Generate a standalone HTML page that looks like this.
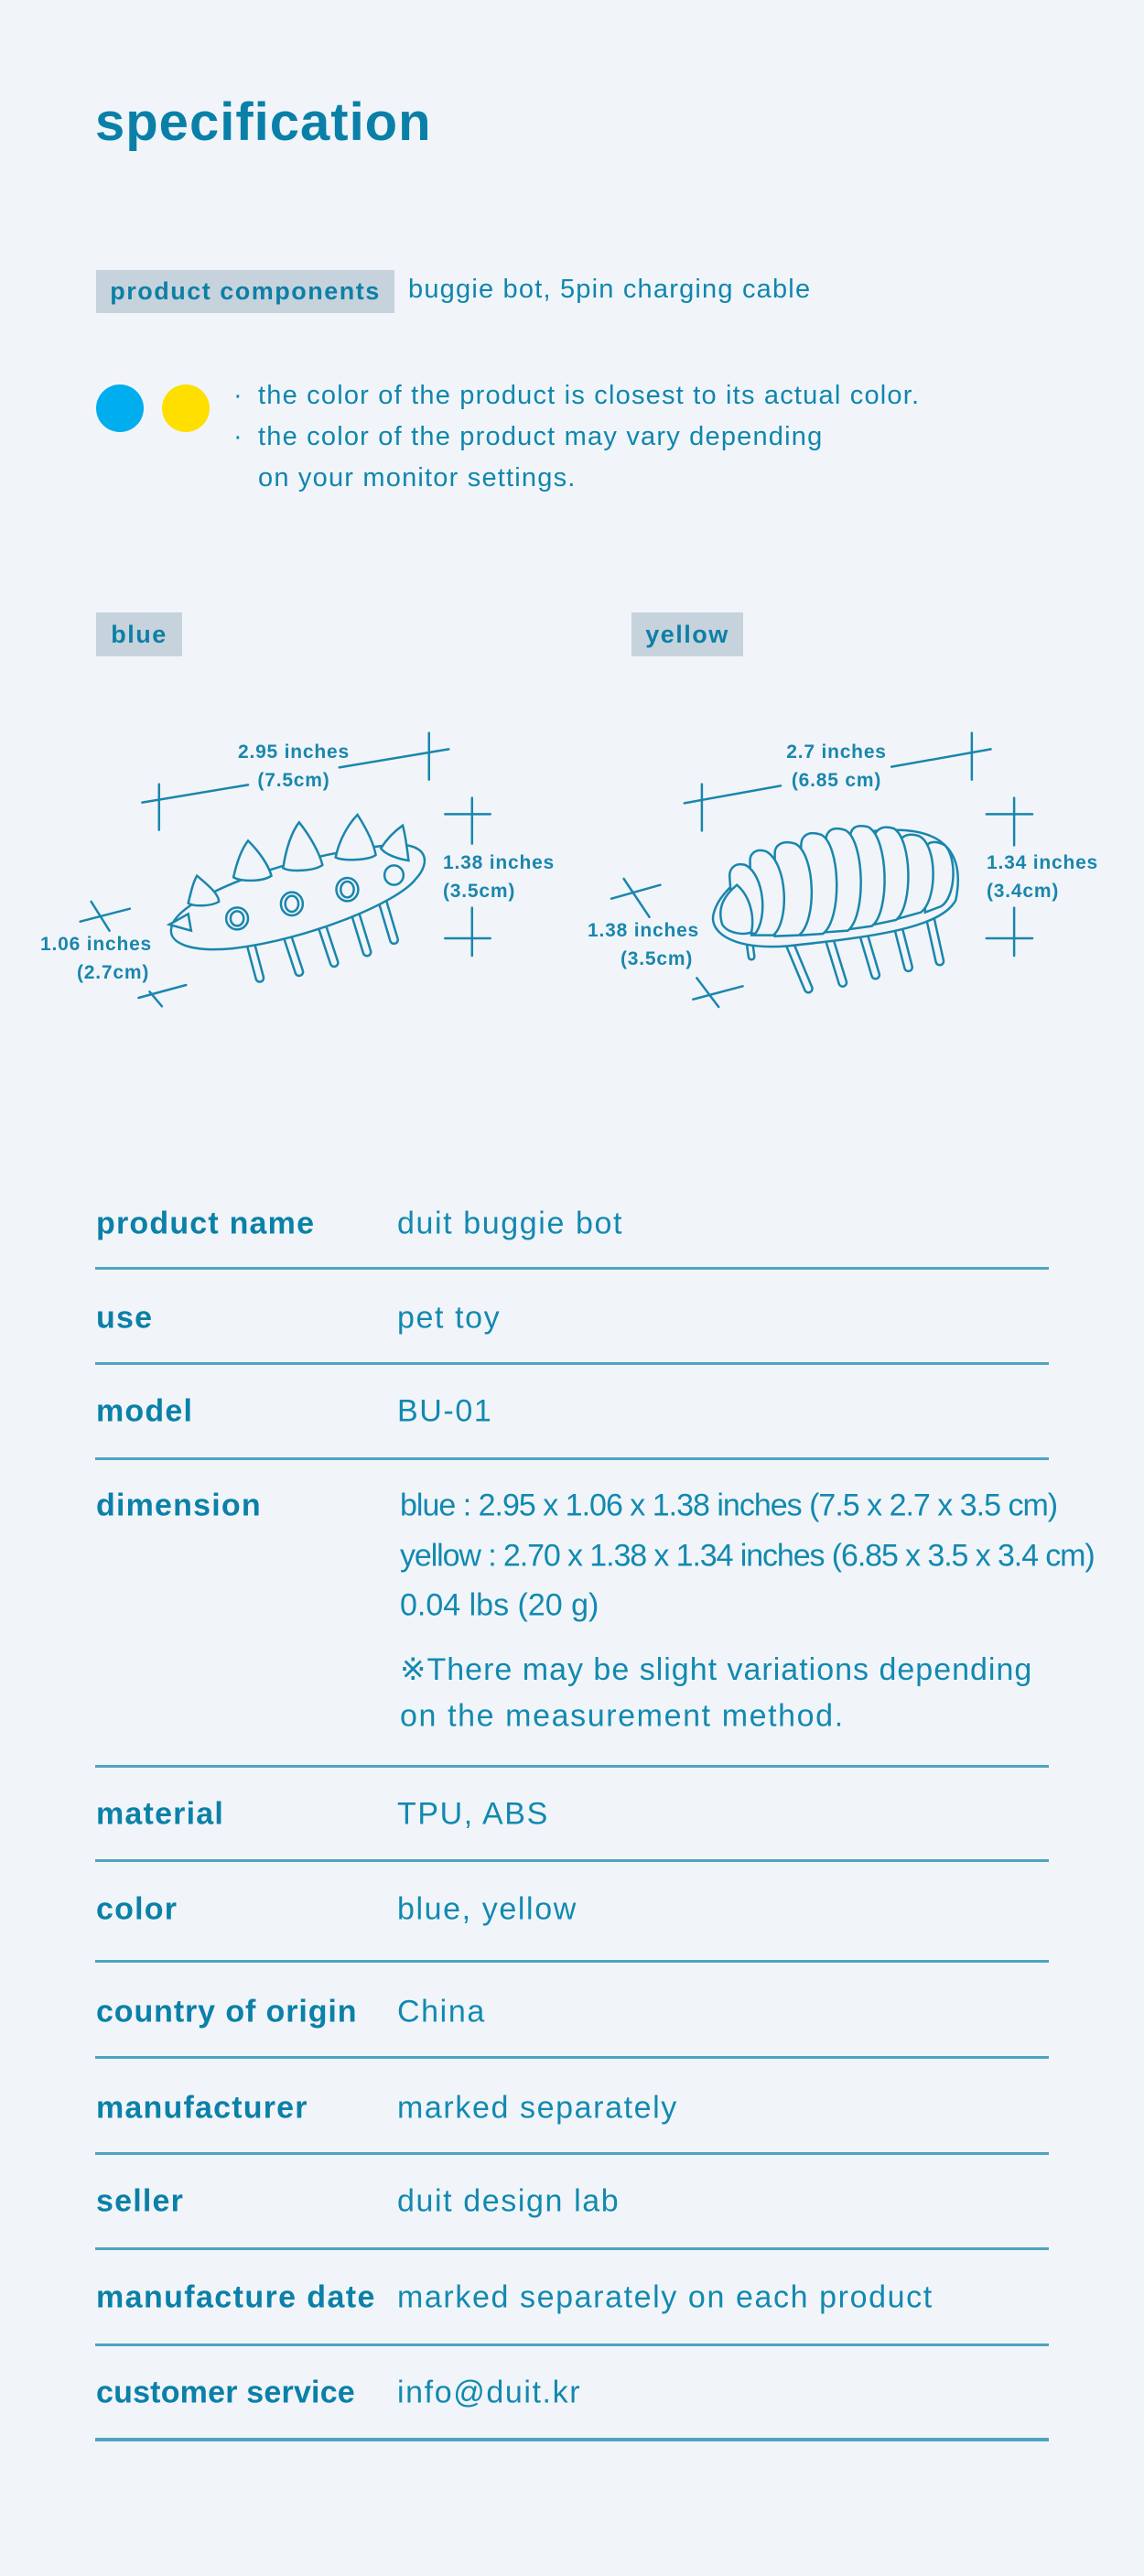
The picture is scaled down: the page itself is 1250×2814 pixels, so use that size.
<!DOCTYPE html>
<html><head><meta charset="utf-8"><style>
*{margin:0;padding:0;box-sizing:border-box}
body{width:1250px;height:2814px;background:#f1f5f9;position:relative;overflow:hidden;font-family:"Liberation Sans",sans-serif;color:#0f86ad}
.a{position:absolute;white-space:nowrap}
.t{left:104px;top:100px;font-size:58px;font-weight:bold;color:#0a80a8;letter-spacing:1px}
.tag{background:#c7d3dc;font-weight:bold;color:#0d7fa6;font-size:27px;letter-spacing:1.5px;display:flex;align-items:center;justify-content:center}
.v{font-size:29px;color:#0f86ad;letter-spacing:1.2px}
.d{font-size:21px;font-weight:bold;color:#1a86ad;line-height:31px;letter-spacing:0.8px;text-align:center}
.lab{left:105px;font-size:34px;font-weight:bold;color:#0b80a8;letter-spacing:1.2px;transform:translateY(-50%)}
.val{left:434px;font-size:34px;color:#1289b0;letter-spacing:1.6px;transform:translateY(-50%)}
.ln{position:absolute;left:104px;width:1042px;height:3px;background:#4ea3c3}
</style></head><body>
<div class="a t">specification</div>
<div class="a tag" style="left:105px;top:295px;width:326px;height:47px">product components</div>
<div class="a v" style="left:446px;top:300px">buggie bot, 5pin charging cable</div>
<div class="a" style="left:105px;top:420px;width:52px;height:52px;border-radius:50%;background:#00aeef"></div>
<div class="a" style="left:177px;top:420px;width:52px;height:52px;border-radius:50%;background:#ffdf00"></div>
<div class="a v" style="left:255px;top:416px">·</div>
<div class="a v" style="left:255px;top:461px">·</div>
<div class="a v" style="left:282px;top:416px">the color of the product is closest to its actual color.</div>
<div class="a v" style="left:282px;top:461px">the color of the product may vary depending</div>
<div class="a v" style="left:282px;top:506px">on your monitor settings.</div>
<div class="a tag" style="left:105px;top:669px;width:94px;height:48px">blue</div>
<div class="a tag" style="left:690px;top:669px;width:122px;height:48px">yellow</div>

<svg class="a" style="left:0;top:750px" width="1250" height="400" viewBox="0 0 1568 1200" preserveAspectRatio="none">
<g fill="none" stroke="#1a86ad" stroke-width="2.5" stroke-linecap="round">
<line x1="195" y1="380" x2="340" y2="322" vector-effect="non-scaling-stroke"/>
<line x1="465" y1="265" x2="615" y2="205" vector-effect="non-scaling-stroke"/>
<line x1="218" y1="320" x2="218" y2="470" vector-effect="non-scaling-stroke"/>
<line x1="588" y1="152" x2="588" y2="305" vector-effect="non-scaling-stroke"/>
<line x1="647" y1="365" x2="647" y2="515" vector-effect="non-scaling-stroke"/>
<line x1="610" y1="418" x2="672" y2="418" vector-effect="non-scaling-stroke"/>
<line x1="647" y1="725" x2="647" y2="882" vector-effect="non-scaling-stroke"/>
<line x1="610" y1="825" x2="672" y2="825" vector-effect="non-scaling-stroke"/>
<line x1="110" y1="770" x2="178" y2="728" vector-effect="non-scaling-stroke"/>
<line x1="125" y1="705" x2="150" y2="800" vector-effect="non-scaling-stroke"/>
<line x1="190" y1="1020" x2="255" y2="978" vector-effect="non-scaling-stroke"/>
<line x1="205" y1="1000" x2="222" y2="1048" vector-effect="non-scaling-stroke"/>

<line x1="938" y1="382" x2="1070" y2="325" vector-effect="non-scaling-stroke"/>
<line x1="1222" y1="263" x2="1358" y2="205" vector-effect="non-scaling-stroke"/>
<line x1="962" y1="320" x2="962" y2="472" vector-effect="non-scaling-stroke"/>
<line x1="1332" y1="152" x2="1332" y2="305" vector-effect="non-scaling-stroke"/>
<line x1="1390" y1="365" x2="1390" y2="520" vector-effect="non-scaling-stroke"/>
<line x1="1352" y1="418" x2="1415" y2="418" vector-effect="non-scaling-stroke"/>
<line x1="1390" y1="725" x2="1390" y2="882" vector-effect="non-scaling-stroke"/>
<line x1="1352" y1="825" x2="1415" y2="825" vector-effect="non-scaling-stroke"/>
<line x1="838" y1="695" x2="905" y2="650" vector-effect="non-scaling-stroke"/>
<line x1="855" y1="630" x2="890" y2="755" vector-effect="non-scaling-stroke"/>
<line x1="950" y1="1025" x2="1018" y2="982" vector-effect="non-scaling-stroke"/>
<line x1="955" y1="955" x2="985" y2="1050" vector-effect="non-scaling-stroke"/>

<g stroke-linecap="round">
<line x1="342" y1="830" x2="356" y2="955" stroke="#1a86ad" stroke-width="11" vector-effect="non-scaling-stroke"/>
<line x1="342" y1="830" x2="356" y2="955" stroke="#f1f5f9" stroke-width="6" vector-effect="non-scaling-stroke"/>
<line x1="392" y1="805" x2="410" y2="935" stroke="#1a86ad" stroke-width="11" vector-effect="non-scaling-stroke"/>
<line x1="392" y1="805" x2="410" y2="935" stroke="#f1f5f9" stroke-width="6" vector-effect="non-scaling-stroke"/>
<line x1="440" y1="775" x2="458" y2="905" stroke="#1a86ad" stroke-width="11" vector-effect="non-scaling-stroke"/>
<line x1="440" y1="775" x2="458" y2="905" stroke="#f1f5f9" stroke-width="6" vector-effect="non-scaling-stroke"/>
<line x1="487" y1="745" x2="503" y2="870" stroke="#1a86ad" stroke-width="11" vector-effect="non-scaling-stroke"/>
<line x1="487" y1="745" x2="503" y2="870" stroke="#f1f5f9" stroke-width="6" vector-effect="non-scaling-stroke"/>
<line x1="525" y1="710" x2="540" y2="830" stroke="#1a86ad" stroke-width="11" vector-effect="non-scaling-stroke"/>
<line x1="525" y1="710" x2="540" y2="830" stroke="#f1f5f9" stroke-width="6" vector-effect="non-scaling-stroke"/>
</g>
<path d="M235,790 C240,700 380,560 530,520 C590,505 590,580 570,630 C545,710 420,830 320,858 C260,872 230,840 235,790Z" fill="#f1f5f9" vector-effect="non-scaling-stroke"/>
<path d="M232,780 L258,745 L262,800Z" fill="#f1f5f9" vector-effect="non-scaling-stroke"/>
<path d="M258,710 C262,670 265,640 270,620 C285,650 300,680 300,705 C290,720 265,722 258,710Z" fill="#f1f5f9" vector-effect="non-scaling-stroke"/>
<path d="M320,625 C325,570 332,530 340,505 C355,540 368,585 372,620 C360,640 330,640 320,625Z" fill="#f1f5f9" vector-effect="non-scaling-stroke"/>
<path d="M388,595 C392,530 400,475 410,445 C425,490 438,545 442,585 C430,605 398,608 388,595Z" fill="#f1f5f9" vector-effect="non-scaling-stroke"/>
<path d="M460,560 C465,500 478,450 490,420 C502,465 512,510 515,552 C505,570 470,572 460,560Z" fill="#f1f5f9" vector-effect="non-scaling-stroke"/>
<path d="M522,530 C530,500 540,475 552,455 C556,490 558,530 560,570 C545,565 528,550 522,530Z" fill="#f1f5f9" vector-effect="non-scaling-stroke"/>
<ellipse cx="325" cy="760" rx="15" ry="36" vector-effect="non-scaling-stroke"/>
<ellipse cx="325" cy="760" rx="9" ry="24" vector-effect="non-scaling-stroke"/>
<ellipse cx="400" cy="712" rx="15" ry="38" vector-effect="non-scaling-stroke"/>
<ellipse cx="400" cy="712" rx="9" ry="26" vector-effect="non-scaling-stroke"/>
<ellipse cx="476" cy="665" rx="15" ry="38" vector-effect="non-scaling-stroke"/>
<ellipse cx="476" cy="665" rx="9" ry="26" vector-effect="non-scaling-stroke"/>
<ellipse cx="540" cy="618" rx="13" ry="32" vector-effect="non-scaling-stroke"/>

<g stroke-linecap="round">
<line x1="1080" y1="830" x2="1108" y2="990" stroke="#1a86ad" stroke-width="11" vector-effect="non-scaling-stroke"/>
<line x1="1080" y1="830" x2="1108" y2="990" stroke="#f1f5f9" stroke-width="6" vector-effect="non-scaling-stroke"/>
<line x1="1135" y1="815" x2="1155" y2="970" stroke="#1a86ad" stroke-width="11" vector-effect="non-scaling-stroke"/>
<line x1="1135" y1="815" x2="1155" y2="970" stroke="#f1f5f9" stroke-width="6" vector-effect="non-scaling-stroke"/>
<line x1="1182" y1="800" x2="1200" y2="945" stroke="#1a86ad" stroke-width="11" vector-effect="non-scaling-stroke"/>
<line x1="1182" y1="800" x2="1200" y2="945" stroke="#f1f5f9" stroke-width="6" vector-effect="non-scaling-stroke"/>
<line x1="1230" y1="780" x2="1245" y2="920" stroke="#1a86ad" stroke-width="11" vector-effect="non-scaling-stroke"/>
<line x1="1230" y1="780" x2="1245" y2="920" stroke="#f1f5f9" stroke-width="6" vector-effect="non-scaling-stroke"/>
<line x1="1275" y1="760" x2="1288" y2="900" stroke="#1a86ad" stroke-width="11" vector-effect="non-scaling-stroke"/>
<line x1="1275" y1="760" x2="1288" y2="900" stroke="#f1f5f9" stroke-width="6" vector-effect="non-scaling-stroke"/>
<line x1="1028" y1="850" x2="1030" y2="885" stroke="#1a86ad" stroke-width="9" vector-effect="non-scaling-stroke"/>
<line x1="1028" y1="850" x2="1030" y2="885" stroke="#f1f5f9" stroke-width="4" vector-effect="non-scaling-stroke"/>
</g>
<path d="M978,745 C990,620 1100,480 1220,470 C1300,465 1322,560 1310,700 C1290,790 1200,820 1080,850 C1000,865 972,800 978,745Z" fill="#f1f5f9" vector-effect="non-scaling-stroke"/>
<g fill="#f1f5f9">
<path d="M1290,720 C1310,690 1312,560 1295,520 C1280,500 1268,510 1268,540 L1268,740Z" vector-effect="non-scaling-stroke"/>
<path d="M1262,740 C1285,700 1285,520 1260,490 C1240,475 1232,500 1232,520 L1232,760Z" vector-effect="non-scaling-stroke"/>
<path d="M1228,765 C1252,720 1250,500 1225,465 C1205,450 1198,480 1198,500 L1198,780Z" vector-effect="non-scaling-stroke"/>
<path d="M1195,785 C1220,740 1218,495 1190,460 C1170,448 1165,470 1165,500 L1165,795Z" vector-effect="non-scaling-stroke"/>
<path d="M1162,800 C1188,750 1185,500 1158,470 C1138,455 1132,480 1132,505 L1132,805Z" vector-effect="non-scaling-stroke"/>
<path d="M1128,810 C1155,760 1152,515 1125,485 C1105,470 1098,495 1098,520 L1098,815Z" vector-effect="non-scaling-stroke"/>
<path d="M1095,815 C1120,770 1118,550 1090,515 C1070,500 1062,525 1062,545 L1062,818Z" vector-effect="non-scaling-stroke"/>
<path d="M1060,815 C1082,770 1080,580 1050,540 C1035,528 1028,550 1028,570 L1030,815Z" vector-effect="non-scaling-stroke"/>
<path d="M1035,810 C1052,760 1048,620 1022,585 C1008,575 1000,595 1000,620 L1005,800Z" vector-effect="non-scaling-stroke"/>
<path d="M1030,805 C1035,740 1025,680 1010,650 C995,680 982,720 990,780 C998,810 1020,815 1030,805Z" vector-effect="non-scaling-stroke"/>
</g>
</g>
</svg>
<div class="a d" style="left:236px;top:806px;width:170px">2.95 inches<br>(7.5cm)</div>
<div class="a d" style="left:484px;top:927px;text-align:left">1.38 inches<br>(3.5cm)</div>
<div class="a d" style="left:44px;top:1016px;text-align:left">1.06 inches<br><span style="margin-left:40px">(2.7cm)</span></div>
<div class="a d" style="left:829px;top:806px;width:170px">2.7 inches<br>(6.85 cm)</div>
<div class="a d" style="left:1078px;top:927px;text-align:left">1.34 inches<br>(3.4cm)</div>
<div class="a d" style="left:642px;top:1001px;text-align:left">1.38 inches<br><span style="margin-left:36px">(3.5cm)</span></div>

<div class="a lab" style="top:1337px">product name</div><div class="a val" style="top:1337px">duit buggie bot</div>
<div class="ln" style="top:1384px"></div>
<div class="a lab" style="top:1440px">use</div><div class="a val" style="top:1440px">pet toy</div>
<div class="ln" style="top:1488px"></div>
<div class="a lab" style="top:1542px">model</div><div class="a val" style="top:1542px">BU-01</div>
<div class="ln" style="top:1592px"></div>
<div class="a lab" style="top:1645px">dimension</div>
<div class="a val" style="top:1645px;left:437px;letter-spacing:-1px">blue :  2.95 x 1.06 x 1.38 inches (7.5 x 2.7 x 3.5 cm)</div>
<div class="a val" style="top:1700px;left:437px;letter-spacing:-1.1px">yellow : 2.70 x 1.38 x 1.34 inches (6.85 x 3.5 x 3.4 cm)</div>
<div class="a val" style="top:1754px;left:437px;letter-spacing:0px">0.04 lbs (20 g)</div>
<div class="a val" style="top:1824px;left:437px;letter-spacing:1px">※There may be slight variations depending</div>
<div class="a val" style="top:1875px;left:437px">on the measurement method.</div>
<div class="ln" style="top:1928px"></div>
<div class="a lab" style="top:1982px">material</div><div class="a val" style="top:1982px">TPU, ABS</div>
<div class="ln" style="top:2031px"></div>
<div class="a lab" style="top:2086px">color</div><div class="a val" style="top:2086px">blue, yellow</div>
<div class="ln" style="top:2141px"></div>
<div class="a lab" style="top:2198px;letter-spacing:0.9px">country of origin</div><div class="a val" style="top:2198px">China</div>
<div class="ln" style="top:2246px"></div>
<div class="a lab" style="top:2303px">manufacturer</div><div class="a val" style="top:2303px">marked separately</div>
<div class="ln" style="top:2351px"></div>
<div class="a lab" style="top:2405px">seller</div><div class="a val" style="top:2405px">duit design lab</div>
<div class="ln" style="top:2455px"></div>
<div class="a lab" style="top:2510px;letter-spacing:1.4px">manufacture date</div><div class="a val" style="top:2510px">marked separately on each product</div>
<div class="ln" style="top:2560px"></div>
<div class="a lab" style="top:2614px;letter-spacing:0.2px">customer service</div><div class="a val" style="top:2614px">info@duit.kr</div>
<div class="ln" style="top:2663px;height:4px"></div>
</body></html>
